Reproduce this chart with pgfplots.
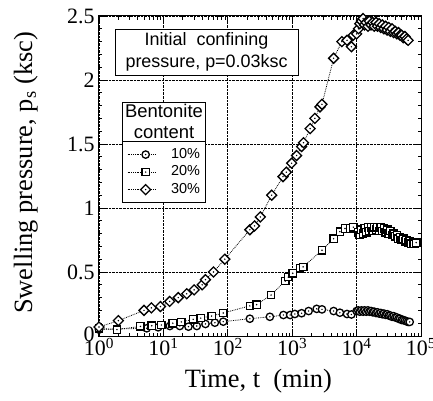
\documentclass[border=0pt]{standalone}
\usepackage{fontspec}
\setmainfont{Liberation Serif}
\newfontfamily\helv{Liberation Sans}
\usepackage{pgfplots}
\pgfplotsset{compat=1.18}
\usetikzlibrary{calc}

\newcommand\centerdot{\pgfscope\pgfsetfillcolor{black}\pgfpathcircle{\pgfpointorigin}{0.22\pgfplotmarksize}\pgfusepathqfill\endpgfscope}
\pgfdeclareplotmark{cdot}{%
  \pgfpathcircle{\pgfpointorigin}{\pgfplotmarksize}\pgfusepathqfillstroke
  \centerdot}
\pgfdeclareplotmark{sdot}{%
  \pgfpathrectangle{\pgfqpoint{-\pgfplotmarksize}{-\pgfplotmarksize}}{\pgfqpoint{2\pgfplotmarksize}{2\pgfplotmarksize}}\pgfusepathqfillstroke
  \centerdot}
\pgfdeclareplotmark{ddot}{%
  \pgfpathmoveto{\pgfqpoint{0pt}{1.35\pgfplotmarksize}}%
  \pgfpathlineto{\pgfqpoint{1.35\pgfplotmarksize}{0pt}}%
  \pgfpathlineto{\pgfqpoint{0pt}{-1.35\pgfplotmarksize}}%
  \pgfpathlineto{\pgfqpoint{-1.35\pgfplotmarksize}{0pt}}%
  \pgfpathclose\pgfusepathqfillstroke
  \centerdot}

\pgfplotstableread{
t y
1 0.05
1.9 0.055
5.5 0.06
8.3 0.068
12.6 0.078
18 0.078
24.5 0.073
33 0.078
45 0.094
63 0.104
85 0.112
220 0.135
450 0.15
730 0.164
930 0.164
1100 0.172
1400 0.178
1800 0.195
2400 0.212
2900 0.208
4400 0.195
5500 0.182
7100 0.172
8300 0.168
10000 0.195
10600 0.20
11200 0.19
11900 0.20
12600 0.19
13300 0.20
14100 0.19
15000 0.20
15800 0.19
16800 0.195
17800 0.185
18800 0.19
20000 0.18
21100 0.185
22400 0.175
23700 0.18
25100 0.17
26600 0.175
28200 0.165
29900 0.17
31600 0.16
33500 0.16
35500 0.15
37600 0.155
39800 0.145
42200 0.145
44700 0.135
47300 0.135
50100 0.125
53100 0.125
56200 0.12
59600 0.115
63100 0.11
66800 0.11
}\tenpct

\pgfplotstableread{
t y
1 0.06
1.9 0.05
4.4 0.075
6.6 0.08
9.3 0.086
14 0.10
19 0.11
29 0.13
38 0.14
56 0.156
85 0.18
220 0.235
280 0.245
470 0.32
780 0.43
870 0.46
1020 0.49
1320 0.53
1480 0.54
2900 0.67
4400 0.76
5500 0.815
6600 0.84
7900 0.84
8900 0.85
10700 0.81
11200 0.79
11900 0.83
12600 0.80
13300 0.84
14100 0.81
15000 0.85
15800 0.82
16800 0.85
17800 0.82
18800 0.85
20000 0.83
21100 0.85
22400 0.82
23700 0.85
25100 0.82
26600 0.84
28200 0.81
29900 0.83
31600 0.80
33500 0.82
35500 0.79
37600 0.80
39800 0.78
42200 0.79
44700 0.76
47300 0.77
50100 0.75
53100 0.76
56200 0.74
59600 0.75
63100 0.73
66800 0.74
70800 0.72
75000 0.73
79400 0.72
84100 0.73
}\twentypct

\pgfplotstableread{
t y
1 0.07
2 0.12
5 0.20
6.5 0.22
9 0.23
12.5 0.27
17 0.30
23 0.33
30 0.36
40 0.40
45 0.44
60 0.50
90 0.60
220 0.83
260 0.86
320 0.93
480 1.10
720 1.245
810 1.28
980 1.35
1170 1.41
1400 1.48
1500 1.51
1900 1.62
2250 1.70
2700 1.79
2900 1.81
4400 2.17
5900 2.30
7100 2.31
8300 2.26
8900 2.35
10000 2.36
10700 2.40
11200 2.44
11900 2.46
12600 2.48
13300 2.43
14100 2.45
15000 2.42
15800 2.46
16800 2.43
17800 2.45
18800 2.42
20000 2.45
21100 2.42
22400 2.44
23700 2.41
25100 2.43
26600 2.40
28200 2.42
29900 2.39
31600 2.41
33500 2.38
35500 2.40
37600 2.37
39800 2.38
42200 2.36
44700 2.37
47300 2.35
50100 2.35
53100 2.33
56200 2.34
59600 2.32
63100 2.31
}\thirtypct

\begin{document}
\begin{tikzpicture}
\begin{axis}[
  width=322bp, height=320bp, scale only axis,
  xmode=log, xmin=1, xmax=1e5, ymin=0, ymax=2.5,
  xtick={1,10,100,1000,10000,100000},
  xticklabels={10\textsuperscript{0},10\textsuperscript{1},10\textsuperscript{2},10\textsuperscript{3},10\textsuperscript{4},10\textsuperscript{5}},
  ytick={0,0.5,1,1.5,2,2.5},
  yticklabels={\raisebox{3bp}{0},0.5,1,1.5,2,2.5},
  minor y tick num=4,
  tick align=inside,
  major tick length=6bp, minor tick length=3.5bp,
  every tick/.style={black, line width=0.7bp},
  axis line style={line width=1bp},
  grid=major,
  major grid style={densely dotted, black, line width=0.7bp},
  tick label style={font=\fontsize{22}{22}\selectfont},
  xticklabel style={yshift=0bp, inner ysep=2bp},
  yticklabel style={xshift=-1bp},
  xlabel={Time, t\ \ (min)},
  ylabel={Swelling pressure, p\textsubscript{s} (ksc)},
  label style={font=\fontsize{26.5}{26.5}\selectfont},
  xlabel style={at={(axis description cs:0.495,-0.142)}, anchor=center},
  ylabel style={at={(axis description cs:-0.227,0.51)}, anchor=center},
  mark size=3.7bp,
  legend style={name=leg, at={(0.071,0.608)}, anchor=north west,
    draw=black, line width=0.8bp, fill=white,
    font=\helv\fontsize{14.5}{16}\selectfont,
    nodes={inner sep=0bp, text height=10.5bp, text depth=3bp},
    inner xsep=5bp, inner ysep=6bp, row sep=4bp, column sep=15bp,
    cells={anchor=west}},
  legend image code/.code={\draw[#1, mark repeat=2, mark phase=2] plot coordinates {(0bp,0bp) (18bp,0bp) (28bp,0bp)};},
]
\addplot[black, line width=0.8bp, densely dotted, mark=cdot, mark options={solid, fill=white, line width=1.3bp}] table[x=t,y=y] {\tenpct};
\addlegendentry{10\%\hspace{6bp}}
\addplot[black, line width=0.8bp, densely dotted, mark=sdot, mark options={solid, fill=white, line width=1.3bp}] table[x=t,y=y] {\twentypct};
\addlegendentry{20\%\hspace{6bp}}
\addplot[black, line width=0.8bp, densely dotted, mark=ddot, mark options={solid, fill=white, line width=1.3bp}] table[x=t,y=y] {\thirtypct};
\addlegendentry{30\%\hspace{6bp}}
\node[draw, line width=0.8bp, fill=white, align=center, minimum width=183bp, minimum height=46bp, inner sep=1bp,
  font=\helv\fontsize{18}{22}\selectfont] at (rel axis cs:0.334,0.8875) {Initial\ \ confining\\pressure,\ p=0.03ksc};
\coordinate (sw) at (rel axis cs:0,0);
\coordinate (ne) at (rel axis cs:1,1);
\end{axis}
\path let \p1=(leg.north west), \p2=(leg.north east) in
  node[draw, line width=0.8bp, fill=white, anchor=south west, minimum width=\x2-\x1, inner sep=2bp,
    align=center, font=\helv\fontsize{18.5}{21}\selectfont] at (\p1) {Bentonite\\content};
\pgfresetboundingbox
\path[use as bounding box] ($(sw)+(-99bp,-65bp)$) rectangle ($(ne)+(12bp,16bp)$);
\end{tikzpicture}
\end{document}
